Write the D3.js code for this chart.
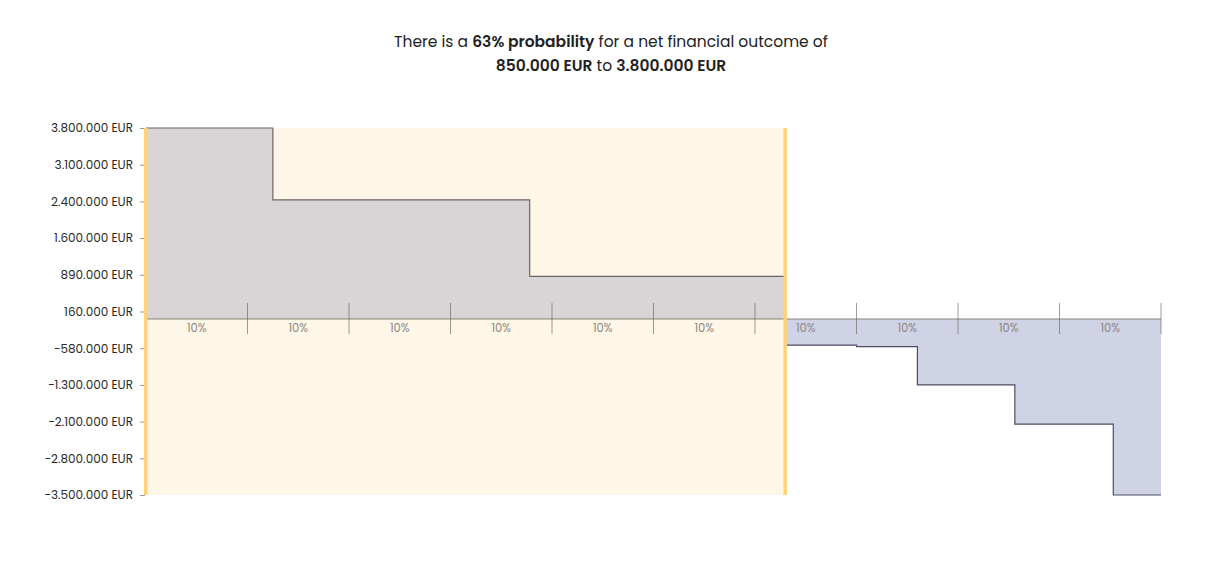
<!DOCTYPE html>
<html>
<head>
  <meta charset="utf-8">
  <script src="https://cdn.jsdelivr.net/npm/d3@7"></script>
  <style>
    body { margin: 0; background: #fff; }
    svg { display: block; font-family: Poppins, Inter, "Open Sans", sans-serif; }
  </style>
</head>
<body>
<script>
  // cumulative probability (%) where each outcome step starts, plus the final 100
  var probBreaks = [0, 12.5, 37.8, 63, 70, 76, 85.6, 95.3, 100];
  // net financial outcome (EUR) for each step
  var outcomes = [3800000, 2370000, 850000, -520000, -550000, -1310000, -2090000, -3500000];
  // y-axis tick labels (EUR), top to bottom
  var yTickValues = [3800000, 3100000, 2400000, 1600000, 890000, 160000,
                     -580000, -1300000, -2100000, -2800000, -3500000];
  // x-axis segments
  var segLabels = ["10%", "10%", "10%", "10%", "10%", "10%", "10%", "10%", "10%", "10%"];
  var highlightProb = 63;

  function draw() {
    "use strict";
    var width = 1226,
        height = 584,
        plotLeft = 146, plotRight = 1161,
        plotTop = 128, plotBottom = 495;

    var svg = d3.select("body").append("svg")
        .attr("width", width)
        .attr("height", height);

    var eur = d3.formatLocale({ decimal: ",", thousands: ".", grouping: [3], currency: ["", " EUR"] })
        .format("$,.0f");

    /* title */
    var title = svg.append("text")
        .attr("text-anchor", "middle")
        .attr("font-size", 15.5)
        .attr("fill", "#222");
    var l1 = title.append("tspan").attr("x", 611).attr("y", 47);
    l1.append("tspan").text("There is a ");
    l1.append("tspan").attr("font-weight", 600).text(highlightProb + "% probability");
    l1.append("tspan").text(" for a net financial outcome of");
    var l2 = title.append("tspan").attr("x", 611).attr("y", 71);
    l2.append("tspan").attr("font-weight", 600).text(eur(outcomes[2]));
    l2.append("tspan").text(" to ");
    l2.append("tspan").attr("font-weight", 600).text(eur(outcomes[0]));

    /* scales */
    var x = d3.scaleLinear().domain([0, 100]).range([plotLeft, plotRight]);
    var y = d3.scaleLinear().domain([d3.min(outcomes), d3.max(outcomes)]).range([plotBottom, plotTop]);
    var yTicks = d3.scalePoint().domain(yTickValues).range([plotTop, plotBottom]);

    /* highlighted probability band */
    svg.append("rect")
        .attr("x", x(0))
        .attr("y", plotTop)
        .attr("width", x(highlightProb) - x(0))
        .attr("height", plotBottom - plotTop)
        .attr("fill", "#fef6e6");

    /* step points */
    var pts = outcomes.map(function (v, i) { return { p: probBreaks[i], v: v }; });
    var posPts = pts.filter(function (d) { return d.v > 0; });
    var negPts = pts.filter(function (d) { return d.v <= 0; });
    posPts.push({ p: negPts[0].p, v: posPts[posPts.length - 1].v });
    negPts.push({ p: 100, v: negPts[negPts.length - 1].v });

    var area = d3.area()
        .curve(d3.curveStepAfter)
        .x(function (d) { return x(d.p); })
        .y0(y(0))
        .y1(function (d) { return y(d.v); });
    var line = d3.line()
        .curve(d3.curveStepAfter)
        .x(function (d) { return x(d.p); })
        .y(function (d) { return y(d.v); });

    svg.append("path").attr("d", area(posPts)).attr("fill", "#d9d4d5");
    svg.append("path").attr("d", area(negPts)).attr("fill", "#d0d2e6");
    svg.append("path").attr("d", line(posPts))
        .attr("fill", "none").attr("stroke", "#6e6667").attr("stroke-width", 1.2);
    svg.append("path").attr("d", line(negPts))
        .attr("fill", "none").attr("stroke", "#4e4d63").attr("stroke-width", 1.2);

    /* x axis on zero line */
    var xg = svg.append("g").attr("transform", "translate(0," + y(0) + ")");
    xg.append("line")
        .attr("x1", x(0)).attr("x2", x(100))
        .attr("stroke", "#7a7468").attr("stroke-opacity", 0.6).attr("stroke-width", 1.5);
    xg.selectAll(".xt")
      .data(segLabels)
      .enter()
      .append("line")
        .attr("x1", function (d, i) { return x((i + 1) * 100 / segLabels.length); })
        .attr("x2", function (d, i) { return x((i + 1) * 100 / segLabels.length); })
        .attr("y1", -16)
        .attr("y2", 15)
        .attr("stroke", "#6e6658")
        .attr("stroke-opacity", 0.65);
    xg.selectAll(".xl")
      .data(segLabels)
      .enter()
      .append("text")
        .attr("x", function (d, i) { return x((i + 0.5) * 100 / segLabels.length); })
        .attr("y", 12.5)
        .attr("text-anchor", "middle")
        .attr("font-size", 11.5)
        .attr("fill", "#8c8884")
        .text(function (d) { return d; });

    /* y axis */
    var yg = svg.append("g")
        .attr("transform", "translate(" + (plotLeft - 1) + ",0)")
        .call(d3.axisLeft(yTicks).tickSize(5).tickPadding(7).tickFormat(eur));
    yg.select(".domain").remove();
    yg.selectAll(".tick line").attr("stroke", "#999");
    yg.selectAll(".tick text")
        .attr("font-family", "Poppins, Inter, sans-serif")
        .attr("font-size", 12)
        .attr("fill", "#2a2a2a");

    /* yellow edges of highlighted band */
    [0, highlightProb].forEach(function (p) {
      svg.append("rect")
          .attr("x", x(p) - 2)
          .attr("y", plotTop)
          .attr("width", 3.5)
          .attr("height", plotBottom - plotTop)
          .attr("fill", "#fdd27e");
    });
  }

  draw();
</script>
</body>
</html>
